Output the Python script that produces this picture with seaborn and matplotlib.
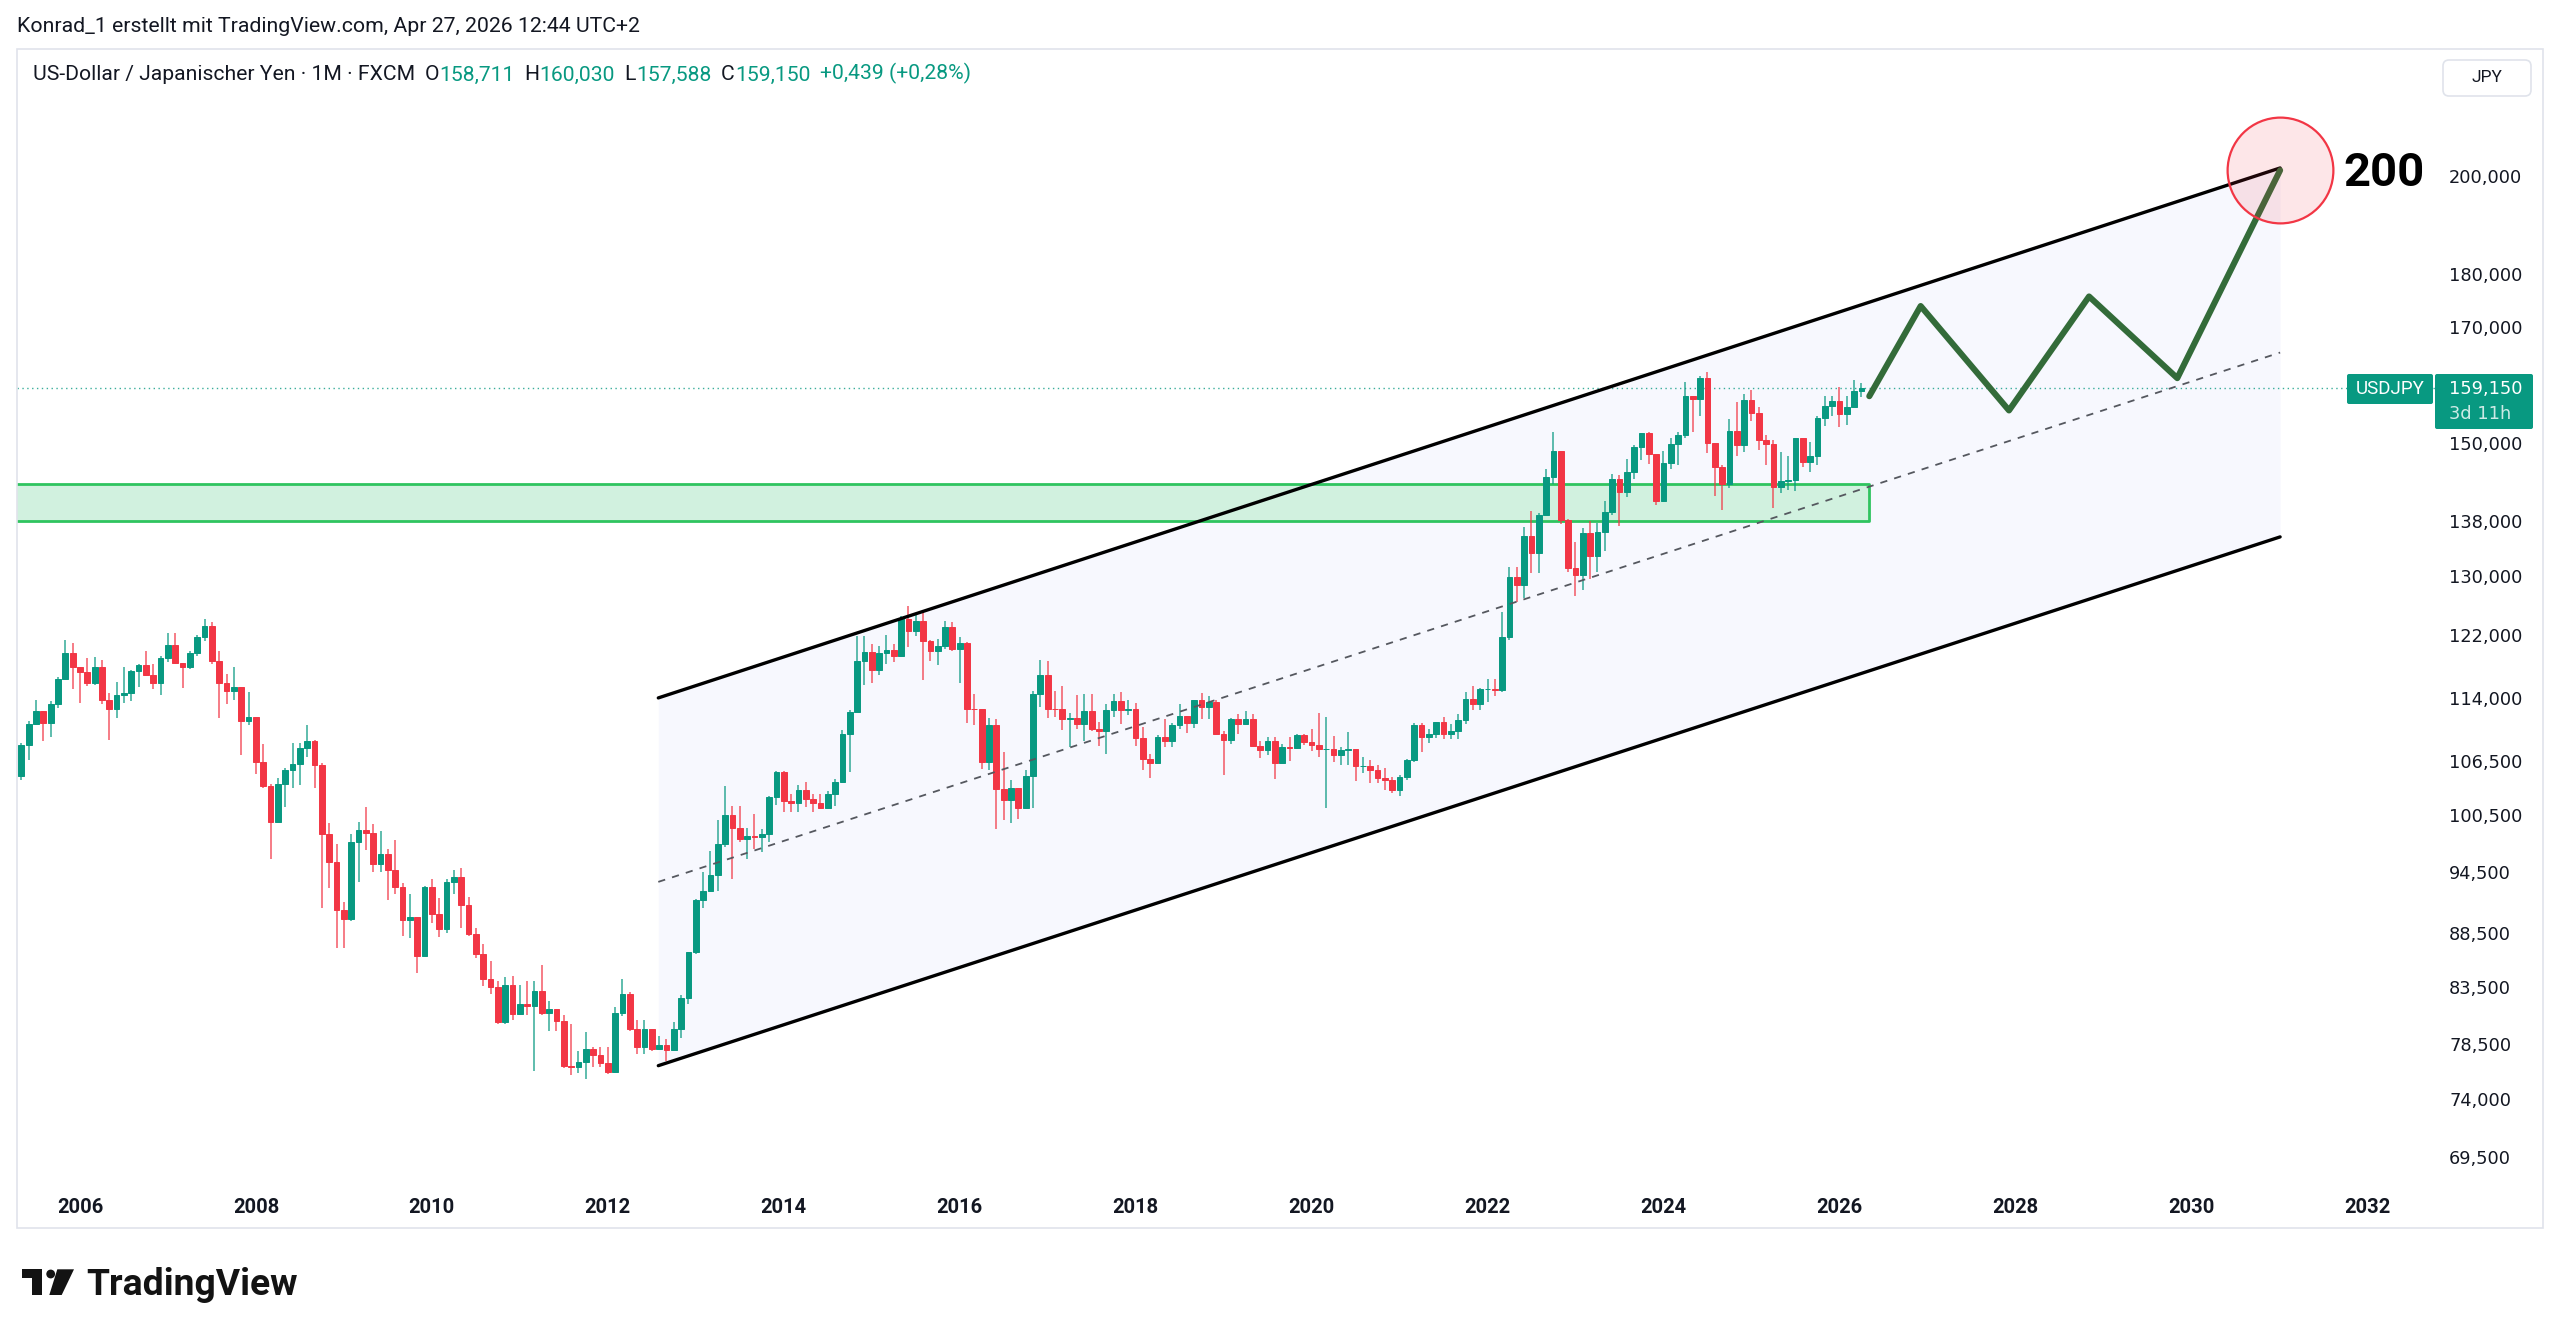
import numpy as np
import pandas as pd
import matplotlib.pyplot as plt
import matplotlib.patches as mpatches
from matplotlib.ticker import NullLocator
import seaborn as sns

W, H, DPI = 2560, 1337, 100
GREEN = "#089981"
RED = "#f23645"
INK = "#131722"

# ── monthly USDJPY candles (FXCM), May 2005 .. Apr 2026 ──────────────────────
first_open = 104.8  # close of Apr 2005
close = [
    108.4, 110.8, 112.4, 110.9, 113.3, 116.4, 119.7, 117.8,                          # 2005
    117.2, 115.8, 117.8, 113.8, 112.6, 114.4, 114.6, 117.3, 118.1, 116.9, 115.8, 119.0,  # 2006
    120.7, 118.4, 117.8, 119.6, 121.7, 123.2, 118.6, 115.8, 114.8, 115.4, 111.2, 111.7,  # 2007
    106.4, 103.7, 99.7, 103.9, 105.5, 106.2, 108.0, 108.8, 106.1, 98.4, 95.5, 90.7,     # 2008
    89.8, 97.6, 98.9, 98.6, 95.3, 96.4, 94.7, 93.0, 89.7, 90.0, 86.3, 93.0,             # 2009
    90.3, 88.9, 93.5, 94.0, 91.2, 88.4, 86.5, 84.2, 83.5, 80.4, 83.7, 81.1,             # 2010
    82.0, 81.8, 83.1, 81.2, 81.5, 80.5, 76.7, 76.6, 77.0, 78.1, 77.6, 76.9,             # 2011
    76.2, 81.2, 82.9, 79.8, 78.3, 79.8, 78.1, 78.4, 78.0, 79.8, 82.5, 86.7,             # 2012
    91.7, 92.6, 94.2, 97.4, 100.5, 99.1, 97.9, 98.2, 98.1, 98.4, 102.4, 105.3,          # 2013
    102.0, 101.8, 103.2, 102.2, 101.8, 101.3, 102.8, 104.1, 109.6, 112.3, 118.6, 119.8,  # 2014
    117.5, 119.6, 120.1, 119.3, 124.1, 122.5, 123.9, 121.2, 119.9, 120.6, 123.1, 120.2,  # 2015
    121.0, 112.7, 112.6, 106.4, 110.7, 103.3, 102.1, 103.4, 101.3, 104.8, 114.5, 116.9,  # 2016
    112.7, 112.65, 111.4, 111.5, 110.8, 112.4, 110.3, 110.0, 112.5, 113.6, 112.5, 112.7,  # 2017
    109.2, 106.7, 106.3, 109.3, 108.8, 110.7, 111.8, 111.0, 113.7, 112.9, 113.5, 109.6,  # 2018
    108.9, 111.4, 110.8, 111.4, 108.3, 107.8, 108.8, 106.3, 108.1, 108.0, 109.5, 108.7,  # 2019
    108.4, 107.9, 107.95, 107.2, 107.8, 107.9, 105.9, 105.95, 105.5, 104.6, 104.3, 103.2,  # 2020
    104.7, 106.6, 110.7, 109.3, 109.6, 111.1, 109.7, 110.0, 111.3, 113.9, 113.2, 115.1,  # 2021
    115.15, 115.0, 121.7, 129.8, 128.7, 135.7, 133.2, 138.9, 144.7, 148.7, 138.1, 131.1,  # 2022
    130.1, 136.2, 132.8, 136.3, 139.3, 144.3, 142.3, 145.5, 149.4, 151.7, 148.2, 141.0,  # 2023
    146.9, 149.9, 151.3, 157.8, 157.3, 160.9, 150.0, 146.2, 143.6, 152.0, 149.7, 157.2,  # 2024
    155.0, 150.6, 149.9, 143.1, 143.95, 144.1, 150.8, 147.0, 147.9, 154.2, 156.2, 157.0,  # 2025
    154.8, 156.0, 158.71, 159.15,                                                    # 2026
]
high = [
    108.6, 111.2, 113.7, 112.1, 113.6, 116.6, 121.4, 121.0,
    117.9, 119.0, 119.1, 118.7, 114.6, 116.0, 117.8, 117.5, 118.3, 119.9, 118.2, 119.3,
    122.2, 122.2, 118.0, 119.9, 122.0, 124.1, 123.7, 119.9, 117.0, 117.9, 115.0, 114.7,
    109.8, 108.5, 103.9, 104.6, 105.7, 108.6, 108.6, 110.7, 109.0, 106.3, 99.6, 97.4,
    91.5, 98.5, 99.7, 101.4, 99.5, 98.8, 96.9, 97.8, 93.4, 92.3, 90.0, 93.1,
    93.8, 91.9, 93.8, 94.7, 94.9, 92.0, 89.0, 87.4, 85.9, 84.0, 84.4, 84.5,
    83.7, 84.0, 84.0, 85.5, 82.2, 81.2, 81.0, 80.2, 77.9, 79.5, 78.3, 78.3,
    78.3, 81.7, 84.2, 83.0, 80.6, 80.6, 79.8, 79.2, 78.9, 80.4, 82.8, 86.6,
    91.8, 94.5, 96.7, 99.9, 103.7, 101.5, 101.5, 99.1, 100.6, 99.0, 102.6, 105.4,
    105.4, 102.8, 103.8, 104.1, 102.8, 102.8, 103.1, 104.5, 110.1, 112.5, 121.8, 121.9,
    120.8, 120.5, 122.0, 120.8, 124.5, 125.9, 124.6, 125.3, 121.4, 121.5, 123.8, 123.7,
    121.7, 121.1, 114.5, 112.0, 111.5, 111.4, 107.5, 104.3, 103.5, 105.5, 114.8, 118.7,
    118.6, 114.9, 115.5, 112.2, 114.4, 114.5, 114.5, 111.1, 113.3, 114.5, 114.7, 113.7,
    113.4, 110.5, 107.3, 109.5, 111.4, 110.9, 113.2, 111.8, 113.7, 114.6, 114.2, 113.8,
    110.0, 111.5, 112.1, 112.4, 112.0, 108.8, 109.3, 109.3, 108.5, 109.3, 109.7, 109.7,
    110.3, 112.2, 111.7, 109.4, 108.1, 109.9, 107.8, 107.0, 106.6, 106.1, 105.7, 104.7,
    104.9, 106.7, 110.9, 110.9, 110.2, 111.1, 111.7, 110.8, 112.1, 114.7, 115.5, 115.2,
    116.4, 116.3, 125.1, 131.3, 131.3, 137.0, 139.4, 139.1, 145.9, 151.9, 148.8, 138.2,
    134.8, 136.9, 137.9, 137.6, 140.9, 145.1, 145.0, 147.4, 149.7, 151.7, 151.9, 148.0,
    148.8, 150.9, 151.9, 160.2, 157.7, 161.3, 162.0, 150.0, 146.5, 153.9, 156.8, 158.1,
    158.9, 155.9, 151.3, 150.5, 148.6, 148.0, 150.9, 150.9, 150.2, 154.5, 157.9, 157.8,
    159.4, 157.8, 160.5, 160.03,
]
low = [
    104.4, 106.6, 110.7, 108.8, 109.3, 112.8, 116.3, 115.1,
    113.4, 115.5, 115.6, 113.3, 108.9, 111.6, 113.4, 113.6, 115.4, 116.7, 115.1, 114.4,
    118.5, 118.3, 115.2, 117.6, 119.3, 121.2, 118.2, 111.6, 113.3, 113.7, 107.2, 110.7,
    105.0, 103.5, 95.8, 99.8, 101.4, 103.5, 103.8, 107.0, 103.5, 90.9, 92.9, 87.1,
    87.1, 89.6, 93.5, 96.8, 94.5, 94.5, 91.7, 92.3, 88.2, 88.0, 84.8, 86.3,
    89.4, 88.1, 88.5, 92.3, 89.0, 88.2, 86.1, 83.6, 82.9, 80.2, 80.2, 80.6,
    81.0, 81.0, 76.3, 81.0, 79.6, 79.6, 76.5, 75.9, 76.1, 75.6, 76.6, 76.6,
    76.0, 76.1, 80.9, 79.6, 77.7, 77.7, 77.9, 78.0, 77.1, 77.9, 79.0, 82.0,
    86.5, 90.9, 92.6, 92.6, 97.1, 93.8, 97.6, 95.8, 96.9, 96.6, 97.6, 101.6,
    100.8, 100.8, 100.8, 101.4, 100.8, 101.1, 101.1, 101.5, 104.0, 105.2, 112.6, 115.6,
    115.9, 116.9, 118.3, 118.5, 119.1, 120.4, 121.9, 116.2, 118.6, 118.1, 120.2, 119.9,
    115.9, 111.0, 110.7, 105.6, 105.5, 99.0, 99.9, 99.6, 100.1, 101.2, 101.2, 112.9,
    111.6, 111.7, 110.1, 108.1, 110.2, 108.8, 110.0, 108.3, 107.3, 111.7, 110.8, 111.9,
    108.3, 105.5, 104.6, 106.3, 108.1, 108.1, 110.3, 109.8, 110.4, 111.4, 111.4, 109.5,
    104.9, 108.5, 109.7, 110.8, 108.3, 106.8, 107.2, 104.5, 106.5, 106.5, 107.9, 108.4,
    107.7, 107.0, 101.2, 106.4, 106.0, 106.1, 104.2, 105.1, 104.0, 104.0, 103.2, 102.9,
    102.6, 104.4, 106.4, 107.5, 108.6, 109.2, 109.1, 109.1, 109.1, 110.8, 112.5, 112.5,
    113.5, 114.2, 114.7, 121.3, 126.4, 126.9, 130.4, 130.4, 138.8, 143.5, 137.5, 130.6,
    127.2, 128.1, 129.6, 130.6, 133.5, 138.8, 137.2, 141.5, 144.4, 147.3, 146.7, 140.3,
    140.8, 145.9, 146.5, 150.8, 151.9, 154.5, 148.5, 141.7, 139.6, 142.9, 148.0, 148.6,
    153.7, 148.9, 146.5, 139.9, 142.1, 142.7, 142.5, 146.2, 145.5, 146.6, 152.8, 154.4,
    152.6, 152.9, 156.5, 157.59,
]

# ── drawings (time in decimal years, price in JPY) ───────────────────────────
channel_t = [2012.574, 2031.01]
channel_upper = [114.0, 201.8]
channel_lower = [76.7, 135.6]
channel_mid = [93.5, 165.4]

zone_t = [2004.5, 2026.34]
zone_lo, zone_hi = 138.0, 143.6

proj_t = [2026.34, 2026.924, 2027.928, 2028.838, 2029.841, 2031.01]
proj_p = [157.8, 173.9, 155.4, 175.7, 160.9, 201.3]
target_t, target_p = 2031.01, 201.3

last_price = 159.15
price_ticks = [69.5, 74, 78.5, 83.5, 88.5, 94.5, 100.5, 106.5, 114, 122,
               130, 138, 150, 170, 180, 200]
year_ticks = list(range(2006, 2034, 2))

header_1 = "Konrad_1 erstellt mit TradingView.com, Apr 27, 2026 12:44 UTC+2"
header_2 = [("US-Dollar / Japanischer Yen · 1M · FXCM", INK, 0),
            ("O", INK, 7), ("158,711", GREEN, 0),
            ("H", INK, 7), ("160,030", GREEN, 0),
            ("L", INK, 7), ("157,588", GREEN, 0),
            ("C", INK, 7), ("159,150", GREEN, 0),
            ("+0,439 (+0,28%)", GREEN, 7)]

# ── style ────────────────────────────────────────────────────────────────────
sns.set_theme(style="white")
plt.rcParams["font.family"] = ["Roboto", "DejaVu Sans"]

fig = plt.figure(figsize=(W / DPI, H / DPI), dpi=DPI)
fig.patch.set_facecolor("white")

# plot area in pixels: x 17..2436, y 49..1187
ax = fig.add_axes([17 / W, (H - 1187) / H, (2436 - 17) / W, (1187 - 49) / H])
ax.set_facecolor("white")
ax.set_yscale("log")
ax.set_xlim(2005.284, 2032.782)
ax.set_ylim(67.3, 229.4)
for s in ax.spines.values():
    s.set_visible(False)

# channel fill + zone
ax.fill_between(channel_t, channel_lower, channel_upper, color="#f7f8fe", lw=0, zorder=1)
ax.fill_between(zone_t, [zone_lo] * 2, [zone_hi] * 2, color="#d1f1df", lw=0, zorder=2)
ax.plot([zone_t[0], zone_t[1], zone_t[1], zone_t[0], zone_t[0]],
        [zone_lo, zone_lo, zone_hi, zone_hi, zone_lo], color="#2fc45f", lw=2.0, zorder=2)

# current price line
ax.axhline(last_price, color=GREEN, lw=1.0, ls=(0, (1, 2.5)), alpha=0.8, zorder=2)

# candles
months = pd.date_range("2005-05-01", periods=len(close), freq="MS")
t = np.array([d.year + (d.month - 1) / 12 for d in months])
c = np.array(close)
o = np.r_[first_open, c[:-1]]
hi = np.maximum(np.array(high), np.maximum(o, c))
lo = np.minimum(np.array(low), np.minimum(o, c))
col = np.where(c >= o, GREEN, RED)
ax.vlines(t, lo, hi, colors=col, lw=1.4, alpha=0.65, zorder=3)
ax.bar(t, np.abs(c - o), bottom=np.minimum(o, c), width=0.78 / 12,
       color=col, edgecolor=col, linewidth=0.7, zorder=4)

# channel lines
ax.plot(channel_t, channel_upper, color="black", lw=2.4, solid_capstyle="round", zorder=5)
ax.plot(channel_t, channel_lower, color="black", lw=2.4, solid_capstyle="round", zorder=5)
ax.plot(channel_t, channel_mid, color="#55585f", lw=1.3, ls=(0, (4, 4)), zorder=5)

# projection path
sns.lineplot(x=proj_t, y=proj_p, sort=False, ax=ax, color="#336b39", lw=4.4,
             solid_joinstyle="round", solid_capstyle="round", zorder=6)

# target circle
ax.scatter([target_t], [target_p], s=5800, marker="o", facecolor=(0.95, 0.21, 0.27, 0.12),
           edgecolor=RED, lw=1.6, zorder=7)

# axes ticks
ax.yaxis.tick_right()
ax.set_yticks(price_ticks)
ax.yaxis.set_minor_locator(NullLocator())
ax.set_yticklabels([f"{v:.3f}".replace(".", ",") for v in price_ticks],
                   family="DejaVu Sans", fontsize=12.8, color=INK)
ax.set_xticks(year_ticks)
ax.set_xticklabels([str(y) for y in year_ticks], fontsize=14.5, fontweight="bold", color=INK)
ax.tick_params(axis="y", length=0, pad=9.4)
ax.tick_params(axis="x", length=0, pad=8)
ax.set_xlabel("")
ax.set_ylabel("")
ax.grid(False)

# ── overlay in pixel coordinates ─────────────────────────────────────────────
ov = fig.add_axes([0, 0, 1, 1], zorder=10)
ov.set_xlim(0, W)
ov.set_ylim(H, 0)
ov.axis("off")
ov.patch.set_alpha(0)

ov.add_patch(mpatches.Rectangle((17, 49), 2526, 1179, fill=False, ec="#e0e3eb", lw=1.2))

ov.text(17, 27, header_1, fontsize=15.3, color=INK, va="center", ha="left")
prev = ov.text(33, 75, header_2[0][0], fontsize=15.2, color=header_2[0][1], va="center", ha="left")
for txt, colr, gap in header_2[1:]:
    prev = ov.annotate(txt, xy=(1, 0), xycoords=prev, xytext=(gap, 0),
                       textcoords="offset points", fontsize=15.2, color=colr,
                       va="bottom", ha="left")

# JPY button
ov.add_patch(mpatches.FancyBboxPatch((2443, 60), 88, 36, boxstyle="round,pad=0,rounding_size=6",
                                     fc="white", ec="#e0e3eb", lw=1.2))
ov.text(2487, 78, "JPY", fontsize=12.5, color=INK, ha="center", va="center")

# 200 label
ov.text(2343, 173, "200", fontsize=34, fontweight="bold", color="black", ha="left", va="center")

# last price labels
ov.add_patch(mpatches.FancyBboxPatch((2347, 374), 86, 30, boxstyle="round,pad=0,rounding_size=2",
                                     fc=GREEN, ec="none"))
ov.text(2390, 389.5, "USDJPY", fontsize=13.5, color="white", ha="center", va="center")
ov.add_patch(mpatches.FancyBboxPatch((2435, 374), 98, 55, boxstyle="round,pad=0,rounding_size=2",
                                     fc=GREEN, ec="none"))
ov.text(2449, 389, "159,150", family="DejaVu Sans", fontsize=12.8, color="white",
        ha="left", va="center")
ov.text(2449, 414, "3d 11h", family="DejaVu Sans", fontsize=12.8, color="white",
        alpha=0.8, ha="left", va="center")

# TradingView logo
ov.add_patch(mpatches.Rectangle((21.7, 1269.3), 20, 9, fc="#131313", ec="none"))
ov.add_patch(mpatches.Rectangle((31.7, 1269.3), 10, 25.7, fc="#131313", ec="none"))
ov.add_patch(mpatches.Circle((50.7, 1274), 4.4, fc="#131313", ec="none"))
ov.add_patch(mpatches.Polygon([(57.3, 1269.3), (74, 1269.3), (61.7, 1295), (49.3, 1295)],
                              closed=True, fc="#131313", ec="none"))
ov.text(86, 1295, "TradingView", fontsize=26.8, fontweight="bold", color="#131313",
        ha="left", va="baseline")

fig.savefig("out.png", dpi=DPI)
